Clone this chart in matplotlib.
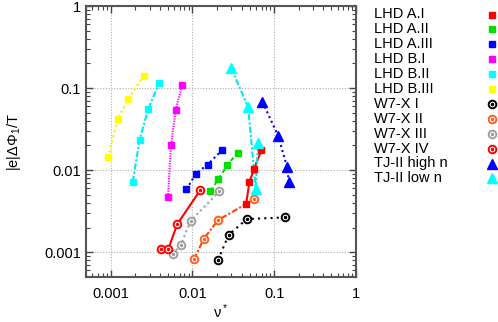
import numpy as np
import matplotlib
matplotlib.use("Agg")
import matplotlib.pyplot as plt
from matplotlib.lines import Line2D
from matplotlib.ticker import LogLocator, FuncFormatter

plt.rcParams['font.family'] = ['Liberation Sans', 'DejaVu Sans']
plt.rcParams['mathtext.fontset'] = 'custom'
plt.rcParams['mathtext.rm'] = 'Liberation Sans'
plt.rcParams['mathtext.it'] = 'Liberation Sans:italic'

# data (nu*, |e|dPhi1/T)
lhd_a1_x = [0.0454, 0.0497, 0.0566, 0.0695]
lhd_a1_y = [0.0039, 0.00713, 0.0103, 0.0174]
lhd_a2_x = [0.0166, 0.0208, 0.0267, 0.0356]
lhd_a2_y = [0.00558, 0.00783, 0.01145, 0.0164]
lhd_a3_x = [0.00846, 0.01106, 0.0153, 0.0231]
lhd_a3_y = [0.00586, 0.00908, 0.0117, 0.0176]
lhd_b1_x = [0.00503, 0.00547, 0.00622, 0.00748]
lhd_b1_y = [0.00475, 0.020, 0.0535, 0.108]
lhd_b2_x = [0.00186, 0.00226, 0.00288, 0.00391]
lhd_b2_y = [0.0072, 0.0234, 0.0557, 0.1146]
lhd_b3_x = [0.00093, 0.00122, 0.00165, 0.00253]
lhd_b3_y = [0.0143, 0.042, 0.0745, 0.142]
w7x_1_x = [0.0206, 0.0277, 0.0463, 0.137]
w7x_1_y = [0.000807, 0.00163, 0.00254, 0.00266]
w7x_2_x = [0.01045, 0.0137, 0.0206, 0.0571]
w7x_2_y = [0.000817, 0.00145, 0.00247, 0.00442]
w7x_3_x = [0.00573, 0.00716, 0.00953, 0.0214]
w7x_3_y = [0.000948, 0.00121, 0.00242, 0.00554]
w7x_4_x = [0.0041, 0.00507, 0.00651, 0.0125]
w7x_4_y = [0.00111, 0.00109, 0.00219, 0.00574]
tj_high_x = [0.0718, 0.112, 0.144, 0.151]
tj_high_y = [0.0678, 0.0262, 0.0108, 0.00726]
tj_low_x = [0.0296, 0.048, 0.0594, 0.0634]
tj_low_y = [0.1766, 0.0589, 0.00596, 0.0217]

series = [
    ("LHD A.I", lhd_a1_x, lhd_a1_y, '#ff0000', '#ff0000', 's', '-'),
    ("LHD A.II", lhd_a2_x, lhd_a2_y, '#00dd00', '#00dd00', 's', (0, (2, 1.5))),
    ("LHD A.III", lhd_a3_x, lhd_a3_y, '#0000ff', '#0000ff', 's', (0, (1, 1.5))),
    ("LHD B.I", lhd_b1_x, lhd_b1_y, '#ff00ff', '#ff00ff', 's', (0, (0.6, 0.6))),
    ("LHD B.II", lhd_b2_x, lhd_b2_y, '#00ffff', '#00e8e8', 's', (0, (3, 1, 1, 1))),
    ("LHD B.III", lhd_b3_x, lhd_b3_y, '#ffff00', '#f0f000', 's', (0, (1, 1.5))),
    ("W7-X I", w7x_1_x, w7x_1_y, '#000000', '#000000', 'c', (0, (1, 2))),
    ("W7-X II", w7x_2_x, w7x_2_y, '#ff6020', '#ff4500', 'c', (0, (3, 1, 1, 1))),
    ("W7-X III", w7x_3_x, w7x_3_y, '#a0a0a0', '#a0a0a0', 'c', (0, (1, 1.5))),
    ("W7-X IV", w7x_4_x, w7x_4_y, '#ff0000', '#ff0000', 'c', '-'),
    ("TJ-II high n", tj_high_x, tj_high_y, '#0000ff', '#0000ff', '^', (0, (1, 1.5))),
    ("TJ-II low n", tj_low_x, tj_low_y, '#00ffff', '#00e8e8', '^', (0, (3, 1, 1, 1))),
]

fig = plt.figure(figsize=(4.98, 3.22), dpi=100)
ax = fig.add_axes([86 / 498, 45 / 322, 270 / 498, 271 / 322])


def marker_kw(kind, color):
    if kind == 's':
        return [dict(marker='s', ms=5, mfc=color, mec=color)]
    if kind == '^':
        return [dict(marker='^', ms=6.5, mfc=color, mec=color)]
    return [dict(marker='o', ms=5.5, mfc='white', mec=color, mew=1.4),
            dict(marker='o', ms=1.5, mfc=color, mec=color)]


for label, xs, ys, mcol, lcol, kind, ls in series:
    ax.plot(xs, ys, color=lcol, ls=ls, lw=1.5, zorder=2)
    for kw in marker_kw(kind, mcol):
        ax.plot(xs, ys, ls='none', zorder=3, **kw)

ax.set_xscale('log')
ax.set_yscale('log')
ax.set_xlim(0.0005, 1)
ax.set_ylim(0.0005, 1)

fmt = FuncFormatter(lambda v, p: '%g' % v)
for axis in (ax.xaxis, ax.yaxis):
    axis.set_major_locator(LogLocator(base=10))
    axis.set_minor_locator(LogLocator(base=10, subs=np.arange(2, 10)))
    axis.set_major_formatter(fmt)
    axis.set_minor_formatter(FuncFormatter(lambda v, p: ''))

ax.tick_params(which='both', direction='in', top=True, right=True,
               color='#444444', labelsize=10.5)
ax.tick_params(which='major', length=5, width=1)
ax.tick_params(which='minor', length=3, width=0.8)
ax.tick_params(axis='x', pad=7)
ax.grid(True, which='major', color='#b0b0b0', ls=(0, (1, 1.5)), lw=0.8)
for sp in ax.spines.values():
    sp.set_color('#555555')
    sp.set_linewidth(1.5)

ax.set_xlabel(r'$\mathrm{\nu^*}$', fontsize=10.5)
ax.set_ylabel(r'$\mathrm{|e|\Delta\Phi_1/T}$', fontsize=10.5)
ax.xaxis.set_label_coords(0.5, -0.093)
ax.yaxis.set_label_coords(-0.235, 0.5)

# key on the right: text left-aligned, markers in a column
for i, (label, xs, ys, mcol, lcol, kind, ls) in enumerate(series):
    yk = 1 - (14.5 + i * 14.9) / 322
    fig.text(374 / 498, yk, label, fontsize=10.5, va='center', ha='left')
    for kw in marker_kw(kind, mcol):
        fig.add_artist(Line2D([492 / 498], [yk], transform=fig.transFigure,
                              ls='none', **kw))

fig.savefig('out.png', dpi=100)
